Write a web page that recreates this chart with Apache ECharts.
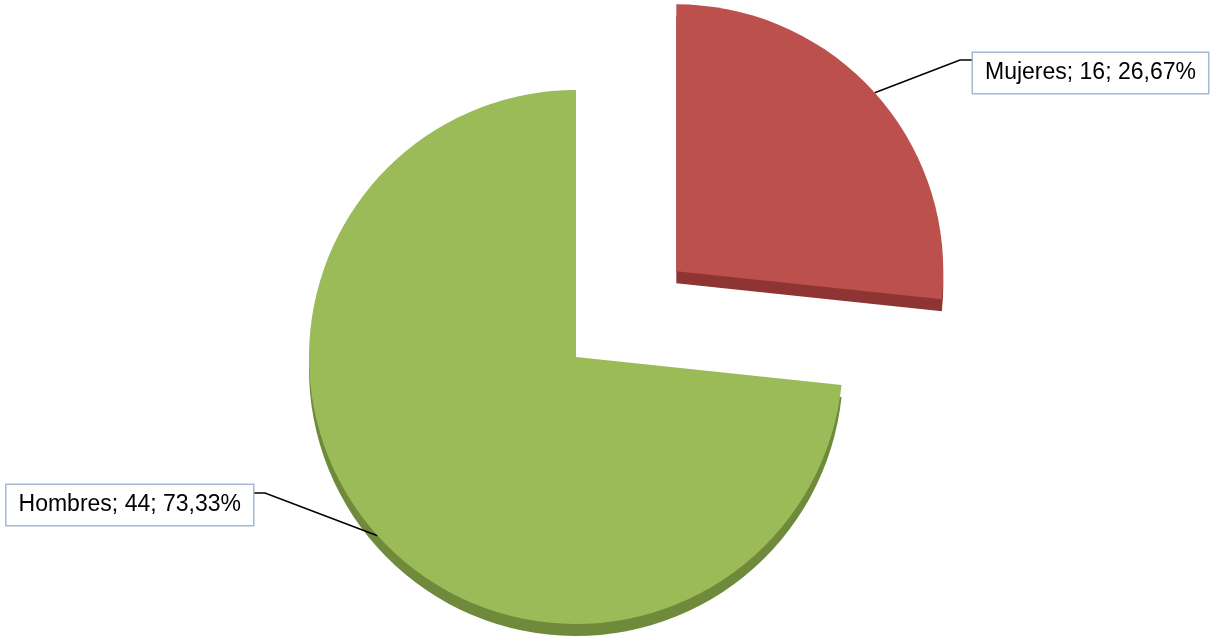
<!DOCTYPE html>
<html>
<head>
<meta charset="utf-8">
<script src="https://cdn.jsdelivr.net/npm/echarts@6/dist/echarts.min.js"></script>
<style>
html,body{margin:0;padding:0;background:#fff;}
#chart{width:1217px;height:644px;}
</style>
</head>
<body>
<div id="chart"></div>
<script>
const categories = ['Mujeres', 'Hombres'];
const values = [16, 44];
const percentLabels = ['26,67%', '73,33%'];
const topColors = ['#bc504c', '#9bbb59'];
const sideColors = ['#8e3533', '#6f8a3a'];

const chart = echarts.init(document.getElementById('chart'));

// layout constants
const baseCenter = [576, 357];
const depth = 12;
const radius = 267;
const explodeX = 135;
const explodeY = 128;
const total = values.reduce((a, b) => a + b, 0);
const midAngle = (90 - 360 * values[0] / total / 2) * Math.PI / 180;
const redCenter = [baseCenter[0] + explodeX * Math.cos(midAngle), baseCenter[1] - explodeY * Math.sin(midAngle)];
const centers = [redCenter, baseCenter];

const labelPos = [
  { x: 973, y: 53, align: 'left', elbow: [960, 60], end: [973, 60] },
  { x: 253, y: 485, align: 'right', elbow: [265, 493], end: [253, 493] }
];

const transparent = 'rgba(0,0,0,0)';

function makeData(showIdx, colors, withLabel) {
  return categories.map((c, i) => {
    const on = i === showIdx;
    return {
      name: c,
      value: values[i],
      itemStyle: { color: on ? colors[i] : transparent },
      label: { show: on && withLabel },
      labelLine: { show: on && withLabel }
    };
  });
}

const series = [];
// depth (side) layers
categories.forEach((c, i) => {
  series.push({
    type: 'pie',
    silent: true,
    center: [centers[i][0], centers[i][1] + depth],
    radius: radius,
    startAngle: 90,
    clockwise: true,
    emphasis: { disabled: true },
    label: { show: false },
    labelLine: { show: false },
    z: 1,
    data: makeData(i, sideColors, false)
  });
});
// top faces
categories.forEach((c, i) => {
  series.push({
    type: 'pie',
    center: centers[i],
    radius: radius,
    startAngle: 90,
    clockwise: true,
    emphasis: { disabled: true },
    z: 2,
    label: {
      position: 'outside',
      formatter: p => p.name + '; ' + p.value + '; ' + percentLabels[p.dataIndex],
      fontFamily: 'Liberation Sans, Arial, sans-serif',
      fontSize: 23,
      lineHeight: 24,
      color: '#000',
      backgroundColor: '#ffffff',
      borderColor: '#a3b9d3',
      borderWidth: 1.5,
      padding: [8, 12, 8, 12]
    },
    labelLine: {
      length: 30,
      length2: 30,
      lineStyle: { color: '#000', width: 1.6 }
    },
    labelLayout: function (params) {
      const lp = labelPos[params.dataIndex];
      if (!lp || !params.labelLinePoints) return {};
      return {
        x: lp.x,
        y: lp.y,
        align: lp.align,
        verticalAlign: 'top',
        labelLinePoints: [params.labelLinePoints[0], lp.elbow, lp.end]
      };
    },
    data: makeData(i, topColors, true)
  });
});

chart.setOption({
  animation: false,
  backgroundColor: '#ffffff',
  series: series
});
</script>
</body>
</html>
